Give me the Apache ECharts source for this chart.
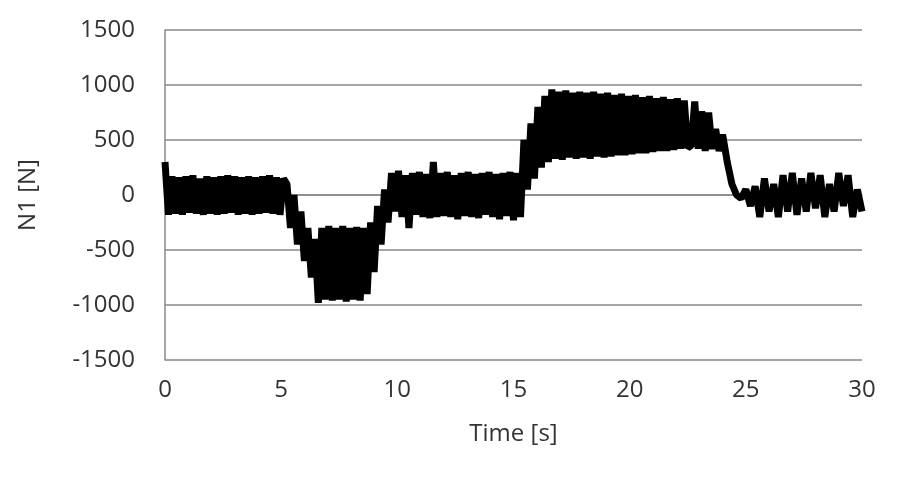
<!DOCTYPE html>
<html><head><meta charset="utf-8">
<script src="https://cdn.jsdelivr.net/npm/echarts@6/dist/echarts.min.js"></script>
<style>html,body{margin:0;padding:0;background:#fff}#c{width:922px;height:490px}</style>
</head><body><div id="c"></div>
<script>
const segA = {t0:0, dt:0.15, v:[300,-180,170,-170,160,-180,170,-160,180,-170,150,-180,170,-170,160,-180,170,-170,180,-160,170,-180,160,-170,170,-180,160,-170,170,-160,180,-170,160,-180,150]};
const segB = {t0:5.25, dt:0.15, v:[100,-300,0,-450,-150,-600,-300,-750,-400,-980]};
const segC = {t0:6.75, dt:0.15, v:[-300,-950,-280,-960,-300,-950,-280,-970,-300,-950,-290,-960,-300]};
const segD = {t0:8.7, dt:0.15, v:[-900,-250,-700,-100,-450,50,-250,200]};
const segE = {t0:9.9, dt:0.15, v:[-150,220,-200,180,-300,200,-180,210,-200,190,-210,300,-200,200,-190,210,-200,180,-220,200,-190,210,-200,190,-210,200,-180,210,-200,190,-220,200,-190,210,-230,200,-200]};
const segF = {t0:15.45, dt:0.15, v:[500,50,650,150,800,250,900,300]};
const segG = {t0:16.65, dt:0.15, v:[960,330,940,320,950,340,930,330,940,340,930,330,940,350,920,340,930,350,910,360,920,360,900,370,910,380,890,380,900,390,880,400,890,400,870,410,880,420,860,430]};
const segH = {t0:22.65, dt:0.15, v:[450,850,420,760,400,750,420,600,400,550]};
const segI = {t0:24.2, dt:0.2, v:[300,100,0,-30]};
const segJ = {t0:25, dt:0.2, v:[50,-100,80,-200,150,-150,100,-200,180,-150,200,-180,150,-150,200,-120,180,-200,100,-150,200,-100,180,-200,50,-150]};
const segments = [segA,segB,segC,segD,segE,segF,segG,segH,segI,segJ];

const data = [];
segments.forEach(s => s.v.forEach((v,i) => data.push([+(s.t0 + i*s.dt).toFixed(3), v])));

const font = 'Open Sans';
const chart = echarts.init(document.getElementById('c'));
chart.setOption({
  animation:false,
  grid:{left:165,right:60,top:30,bottom:130},
  xAxis:{type:'value',min:0,max:30,interval:5,name:'Time [s]',nameLocation:'middle',nameGap:62,
    nameTextStyle:{fontSize:24,color:'#333',fontFamily:font},
    axisLine:{lineStyle:{color:'#888',width:1.5}},axisTick:{show:false},
    axisLabel:{fontSize:24,color:'#333',margin:18,fontFamily:font},splitLine:{show:false}},
  yAxis:{type:'value',min:-1500,max:1500,interval:500,name:'N1 [N]',nameLocation:'middle',nameGap:125,
    nameTextStyle:{fontSize:24,color:'#333',fontFamily:font},
    axisLine:{show:true,lineStyle:{color:'#888',width:1.5}},axisTick:{show:false},
    axisLabel:{fontSize:24,color:'#333',margin:30,fontFamily:font,formatter:v=>String(v)},
    splitLine:{lineStyle:{color:'#888',width:1.5}}},
  series:[{type:'line',data:data,showSymbol:false,lineStyle:{color:'#000',width:7}}]
});
</script></body></html>
